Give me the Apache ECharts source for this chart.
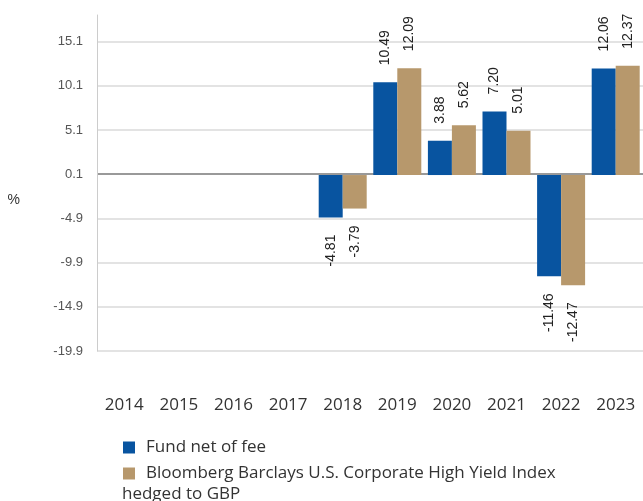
<!DOCTYPE html>
<html>
<head>
<meta charset="utf-8">
<script src="https://cdn.jsdelivr.net/npm/echarts@6/dist/echarts.min.js"></script>
<style>
  html, body { margin: 0; padding: 0; background: #fff; }
  #chart { width: 643px; height: 501px; }
</style>
</head>
<body>
<div id="chart"></div>
<script>
const years = ['2014', '2015', '2016', '2017', '2018', '2019', '2020', '2021', '2022', '2023'];
const fundValues = [null, null, null, null, -4.81, 10.49, 3.88, 7.20, -11.46, 12.06];
const indexValues = [null, null, null, null, -3.79, 12.09, 5.62, 5.01, -12.47, 12.37];
const fundName = 'Fund net of fee';
const indexName = 'Bloomberg Barclays U.S. Corporate High Yield Index hedged to GBP';

const BLUE = '#0854a0';
const TAN = '#b7986c';

const chart = echarts.init(document.getElementById('chart'));

// labels go above positive bars and below negative ones
const withLabels = (values) => values.map((v) => ({
  value: v,
  label: v < 0
    ? { position: 'bottom', align: 'right' }
    : { position: 'top', align: 'left' },
}));

const barLabel = {
  show: true,
  rotate: 90,
  distance: 17,
  verticalAlign: 'middle',
  color: '#222',
  fontSize: 14,
  fontFamily: 'Liberation Sans, Arial, sans-serif',
  formatter: (p) => p.value.toFixed(2),
};

chart.setOption({
  animation: false,
  textStyle: { fontFamily: 'Liberation Sans, Arial, sans-serif' },
  grid: { left: 97, right: 0, top: 15, bottom: 150 },
  legend: {
    orient: 'vertical',
    left: 123,
    top: 439,
    padding: 0,
    itemWidth: 12,
    itemHeight: 12,
    itemGap: 9,
    icon: 'rect',
    textStyle: { fontFamily: 'Open Sans', fontSize: 17, color: '#333', padding: [0, 0, 0, 6] },
    formatter: (name) => name === indexName
      ? 'Bloomberg Barclays U.S. Corporate High Yield Index'
      : name,
    data: [fundName, indexName],
  },
  graphic: [{
    type: 'text',
    left: 122,
    top: 486,
    style: { text: 'hedged to GBP', font: '17px "Open Sans"', fill: '#333' },
  }],
  xAxis: {
    type: 'category',
    data: years,
    axisLine: { show: false },
    axisTick: { show: false },
    axisLabel: { margin: 46, color: '#333', fontSize: 17, fontFamily: 'Open Sans' },
  },
  yAxis: {
    type: 'value',
    min: -19.9,
    max: 18.1,
    interval: 5,
    name: '%',
    nameLocation: 'middle',
    nameRotate: 0,
    nameGap: 77,
    nameTextStyle: { color: '#333', fontSize: 14, verticalAlign: 'top', padding: [10, 0, 0, 0] },
    axisLine: { show: true, lineStyle: { color: '#cccccc', width: 1 } },
    axisTick: { show: false },
    axisLabel: {
      margin: 14,
      color: '#555',
      fontSize: 13,
      showMaxLabel: false,
      formatter: (v) => v.toFixed(1),
    },
    splitLine: {
      showMaxLine: false,
      lineStyle: {
        color: ['#e3e3e3', '#e3e3e3', '#e3e3e3', '#e3e3e3', '#999999', '#e3e3e3', '#e3e3e3', '#e3e3e3'],
        width: 2,
      },
    },
  },
  series: [
    {
      name: fundName,
      type: 'bar',
      data: withLabels(fundValues),
      barWidth: 24,
      barGap: '0%',
      itemStyle: { color: BLUE },
      label: barLabel,
    },
    {
      name: indexName,
      type: 'bar',
      data: withLabels(indexValues),
      barWidth: 24,
      itemStyle: { color: TAN },
      label: barLabel,
    },
  ],
});
</script>
</body>
</html>
